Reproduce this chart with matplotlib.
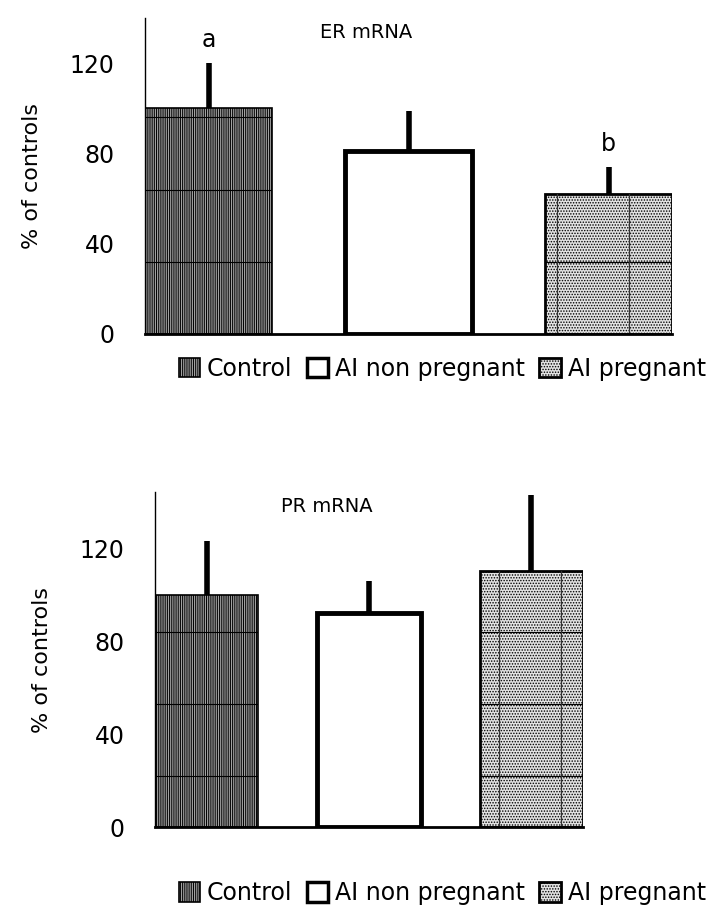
import numpy as np
import matplotlib
matplotlib.use("Agg")
import matplotlib.pyplot as plt
from matplotlib.patches import Patch

# ---- data ---------------------------------------------------------------
groups = ["Control", "AI non pregnant", "AI pregnant"]

er_mean = [100, 81, 62]
er_err = [20, 18, 12]
er_letters = ["a", "", "b"]

pr_mean = [100, 92, 110]
pr_err = [23, 14, 33]

yticks = [0, 40, 80, 120]

# ---- styles ---------------------------------------------------------------
plt.rcParams["font.family"] = ["DejaVu Sans"]
plt.rcParams["hatch.linewidth"] = 0.7

styles = [
    dict(facecolor="#b8b8b8", hatch="|||||||||", edgecolor="black", linewidth=1.2),
    dict(facecolor="white", hatch=None, edgecolor="black", linewidth=3.5),
    dict(facecolor="#e2e2e2", hatch="......", edgecolor="black", linewidth=2.0),
]


def panel(ax, means, errs, title, title_x, ylim, hseam, vseam, letters=None):
    x = np.arange(len(means))
    w = 0.635
    bars = []
    for i, (m, s) in enumerate(zip(means, styles)):
        b = ax.bar(x[i], m, width=w, **s, zorder=2)[0]
        bars.append(b)
        # upper error bar only, thick, no cap
        ax.plot([x[i], x[i]], [m, m + errs[i]], color="black", lw=4,
                solid_capstyle="butt", zorder=3, clip_on=False)
    # tile seams of the original fill patterns
    for i in (0, 2):
        b = bars[i]
        for yv in np.arange(hseam[0], means[i], hseam[1]):
            ln, = ax.plot([x[i] - w / 2, x[i] + w / 2], [yv, yv],
                          color="black", lw=0.8, zorder=2.5)
            ln.set_clip_path(b)
    for dx in vseam:
        ln, = ax.plot([x[2] + dx, x[2] + dx], [0, means[2]], color="#333333",
                      lw=0.9, zorder=2.5)
        ln.set_clip_path(bars[2])
    if letters:
        for i, t in enumerate(letters):
            if t:
                ax.text(x[i], means[i] + errs[i] + 5, t, ha="center",
                        va="bottom", fontsize=17)
    ax.text(title_x, ylim - 2, title, ha="center", va="top", fontsize=14)
    ax.set_xlim(-w / 2, len(means) - 1 + w / 2)
    ax.set_ylim(0, ylim)
    ax.set_yticks(yticks)
    ax.tick_params(axis="y", length=0, pad=22, labelsize=17)
    ax.set_xticks([])
    ax.spines["top"].set_visible(False)
    ax.spines["right"].set_visible(False)
    ax.spines["left"].set_linewidth(1.0)
    ax.spines["bottom"].set_linewidth(2.0)
    ax.set_ylabel("% of controls", fontsize=16, labelpad=20)
    handles = [Patch(**s, label=g) for s, g in zip(styles, groups)]
    for h in handles:
        h.set_linewidth(min(h.get_linewidth(), 2.5))
    return handles


fig = plt.figure(figsize=(7.25, 9.17), dpi=100)
leg_kw = dict(loc="center", ncol=3, frameon=False, fontsize=17,
              handlelength=0.9, handleheight=0.9, handletextpad=0.3,
              columnspacing=0.6)

ax1 = fig.add_axes([0.200, 0.636, 0.727, 0.344])
h = panel(ax1, er_mean, er_err, "ER mRNA", 0.79, 140, (32, 32),
          (-0.26, 0.10), er_letters)
fig.legend(handles=h, bbox_to_anchor=(0.61, 0.598), **leg_kw)

ax2 = fig.add_axes([0.214, 0.098, 0.590, 0.365])
h = panel(ax2, pr_mean, pr_err, "PR mRNA", 0.74, 144, (22, 31),
          (-0.20, 0.18))
fig.legend(handles=h, bbox_to_anchor=(0.61, 0.026), **leg_kw)

fig.savefig("out.png", dpi=100)
